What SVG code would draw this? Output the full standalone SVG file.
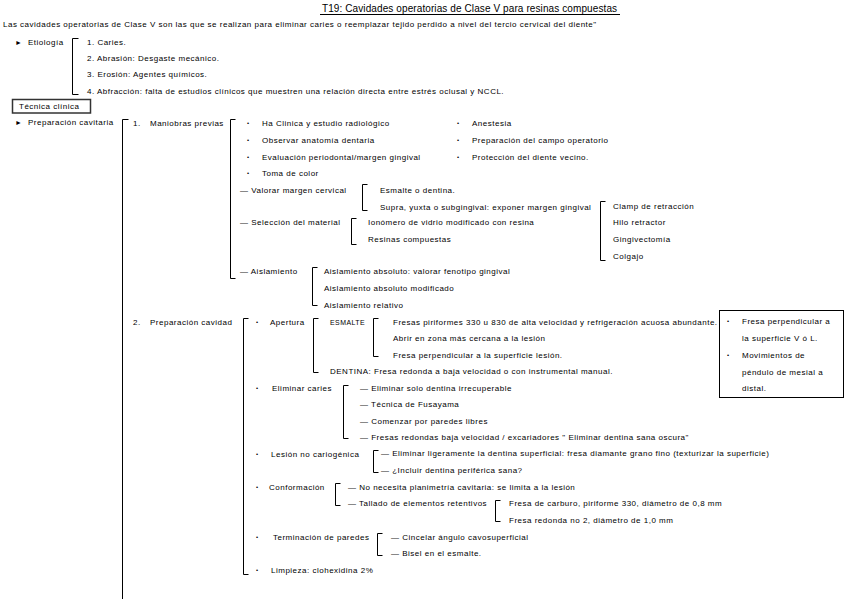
<svg xmlns="http://www.w3.org/2000/svg" width="848" height="599" viewBox="0 0 848 599">
<style>
text{font-family:"Liberation Sans",Arial,sans-serif;font-size:8px;letter-spacing:0.5px;fill:#000;dominant-baseline:central}
.title{font-size:10px;letter-spacing:0.1px}
.bul{font-size:6px;letter-spacing:0}
.tri{font-size:7px;letter-spacing:0}
.br{fill:none;stroke:#000;stroke-width:1}
.box{fill:none;stroke:#000;stroke-width:1}
.tbox{fill:none;stroke:#333;stroke-width:1.5}
</style>
<rect width="848" height="599" fill="#fff"/>

<g id="title">
<text class="title" x="322" y="8">T19: Cavidades operatorias de Clase V para resinas compuestas</text>
<line x1="320" y1="14.5" x2="620" y2="14.5" stroke="#000" stroke-width="1"/>
</g>
<g id="definicion">
<text x="3" y="24">Las cavidades operatorias de Clase V son las que se realizan para eliminar caries o reemplazar tejido perdido a nivel del tercio cervical del diente"</text>
</g>

<g id="connectors">
<path class="br" d="M78.5,38.5H72.5V94.5H78.5"/>
<path class="br" d="M128.5,119.5H122.5V600"/>
<path class="br" d="M235.5,119.5H230.5V278.5H235.5"/>
<path class="br" d="M367.5,184.5H362.5V210.5H367.5"/>
<path class="br" d="M605.5,201.5H600.5V260.5H605.5"/>
<path class="br" d="M356.5,218.5H351.5V244.5H356.5"/>
<path class="br" d="M317.5,267.5H312.5V305.5H317.5"/>
<path class="br" d="M248.5,318.5H243.5V574.5H248.5"/>
<path class="br" d="M318.5,318.5H313.5V372.5H318.5"/>
<path class="br" d="M378.5,318.5H373.5V356.5H378.5"/>
<path class="br" d="M348.5,385.5H343.5V438.5H348.5"/>
<path class="br" d="M378.5,450.5H373.5V472.5H378.5"/>
<path class="br" d="M340.5,483.5H335.5V505.5H340.5"/>
<path class="br" d="M500.5,500.5H495.5V521.5H500.5"/>
<path class="br" d="M382.5,533.5H377.5V555.5H382.5"/>
</g>

<g id="etiologia">
<text class="tri" x="15" y="42">►</text>
<text x="28" y="42">Etiología</text>
</g>
<g id="etiologia-items">
<text x="87" y="42">1. Caries.</text>
<text x="87" y="58">2. Abrasión: Desgaste mecánico.</text>
<text x="87" y="74">3. Erosión: Agentes químicos.</text>
<text x="87" y="91">4. Abfracción: falta de estudios clínicos que muestren una relación directa entre estrés oclusal y NCCL.</text>
</g>

<g id="tecnica-clinica">
<rect class="tbox" x="12.5" y="99.5" width="78" height="13.5"/>
<text x="19" y="106.5">Técnica clínica</text>
</g>

<g id="preparacion-cavitaria">
<text class="tri" x="15" y="122">►</text>
<text x="28" y="122">Preparación cavitaria</text>
</g>

<g id="maniobras-previas">
<text x="133" y="123">1.</text>
<text x="150" y="123">Maniobras previas</text>
</g>
<g id="maniobras-items">
<text class="bul" x="247" y="123">•</text><text x="262" y="123">Ha Clinica y estudio radiológico</text>
<text class="bul" x="247" y="140">•</text><text x="262" y="140">Observar anatomía dentaria</text>
<text class="bul" x="247" y="157">•</text><text x="262" y="157">Evaluación periodontal/margen gingival</text>
<text class="bul" x="247" y="173">•</text><text x="262" y="173">Toma de color</text>
<text class="bul" x="457" y="123">•</text><text x="472" y="123">Anestesia</text>
<text class="bul" x="457" y="140">•</text><text x="472" y="140">Preparación del campo operatorio</text>
<text class="bul" x="457" y="157">•</text><text x="472" y="157">Protección del diente vecino.</text>
</g>

<g id="valorar-margen">
<text x="240" y="190">— Valorar margen cervical</text>
</g>
<g id="valorar-margen-items">
<text x="380" y="190">Esmalte o dentina.</text>
<text x="380" y="207">Supra, yuxta o subgingival: exponer margen gingival</text>
</g>
<g id="exponer-margen-items">
<text x="613" y="206">Clamp de retracción</text>
<text x="613" y="222">Hilo retractor</text>
<text x="613" y="239">Gingivectomía</text>
<text x="613" y="256">Colgajo</text>
</g>

<g id="seleccion-material">
<text x="240" y="222">— Selección del material</text>
</g>
<g id="seleccion-material-items">
<text x="368" y="222">Ionómero de vidrio modificado con resina</text>
<text x="368" y="239">Resinas compuestas</text>
</g>

<g id="aislamiento">
<text x="240" y="271">— Aislamiento</text>
</g>
<g id="aislamiento-items">
<text x="324" y="271">Aislamiento absoluto: valorar fenotipo gingival</text>
<text x="324" y="288">Aislamiento absoluto modificado</text>
<text x="324" y="305">Aislamiento relativo</text>
</g>

<g id="preparacion-cavidad">
<text x="133" y="322">2.</text>
<text x="150" y="322">Preparación cavidad</text>
</g>

<g id="apertura">
<text class="bul" x="256" y="322">•</text>
<text x="270" y="322">Apertura</text>
</g>
<g id="esmalte">
<text x="330" y="322" textLength="35" lengthAdjust="spacingAndGlyphs">ESMALTE</text>
</g>
<g id="esmalte-items">
<text x="393" y="322">Fresas piriformes 330 u 830 de alta velocidad y refrigeración acuosa abundante.</text>
<text x="393" y="338">Abrir en zona más cercana a la lesión</text>
<text x="393" y="355">Fresa perpendicular a la superficie lesión.</text>
</g>
<g id="dentina">
<text x="330" y="371">DENTINA: Fresa redonda a baja velocidad o con instrumental manual.</text>
</g>
<g id="nota-fresa">
<rect class="box" x="719.5" y="310.5" width="124" height="87"/>
<text class="bul" x="727" y="321">•</text><text x="742" y="321">Fresa perpendicular a</text>
<text x="742" y="338">la superficie V ó L.</text>
<text class="bul" x="727" y="355">•</text><text x="742" y="355">Movimientos de</text>
<text x="742" y="372">péndulo de mesial a</text>
<text x="742" y="388">distal.</text>
</g>

<g id="eliminar-caries">
<text class="bul" x="256" y="388">•</text>
<text x="272" y="388">Eliminar caries</text>
</g>
<g id="eliminar-caries-items">
<text x="360" y="388">— Eliminar solo dentina irrecuperable</text>
<text x="360" y="404">— Técnica de Fusayama</text>
<text x="360" y="421">— Comenzar por paredes libres</text>
<text x="360" y="437">— Fresas redondas baja velocidad / excariadores " Eliminar dentina sana oscura"</text>
</g>

<g id="lesion-no-cariogenica">
<text class="bul" x="256" y="454">•</text>
<text x="271" y="454">Lesión no cariogénica</text>
</g>
<g id="lesion-items">
<text x="381" y="453">— Eliminar ligeramente la dentina superficial: fresa diamante grano fino (texturizar la superficie)</text>
<text x="381" y="470">— ¿Incluir dentina periférica sana?</text>
</g>

<g id="conformacion">
<text class="bul" x="256" y="487">•</text>
<text x="269" y="487">Conformación</text>
</g>
<g id="conformacion-items">
<text x="348" y="487">— No necesita planimetría cavitaria: se limita a la lesión</text>
<text x="348" y="503">— Tallado de elementos retentivos</text>
</g>
<g id="tallado-items">
<text x="509" y="503">Fresa de carburo, piriforme 330, diámetro de 0,8 mm</text>
<text x="509" y="520">Fresa redonda no 2, diámetro de 1,0 mm</text>
</g>

<g id="terminacion">
<text class="bul" x="256" y="537">•</text>
<text x="273" y="537">Terminación de paredes</text>
</g>
<g id="terminacion-items">
<text x="391" y="537">— Cincelar ángulo cavosuperficial</text>
<text x="391" y="553">— Bisel en el esmalte.</text>
</g>

<g id="limpieza">
<text class="bul" x="256" y="570">•</text>
<text x="271" y="570">Limpieza: clohexidina 2%</text>
</g>
</svg>
